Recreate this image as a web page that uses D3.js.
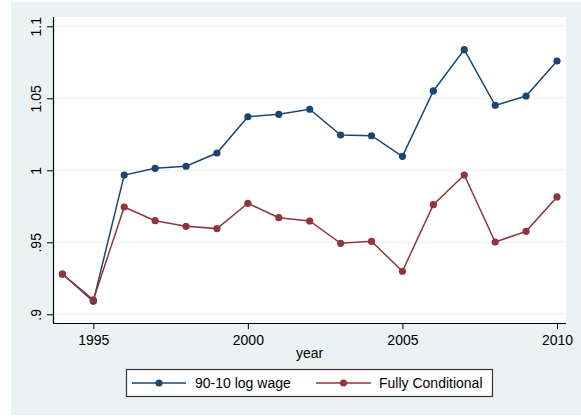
<!DOCTYPE html>
<html>
<head>
<meta charset="utf-8">
<script src="https://cdn.jsdelivr.net/npm/d3@7"></script>
<style>
  html, body { margin: 0; padding: 0; background: #ffffff; }
  svg { display: block; font-family: "Liberation Sans", Arial, sans-serif; }
</style>
</head>
<body>
<svg id="chart" width="581" height="417"></svg>
<script>
const years = [1994, 1995, 1996, 1997, 1998, 1999, 2000, 2001, 2002, 2003, 2004, 2005, 2006, 2007, 2008, 2009, 2010];
const logWage9010 = [0.928, 0.909, 0.9967, 1.0014, 1.0028, 1.012, 1.0372, 1.0389, 1.0424, 1.0245, 1.024, 1.0097, 1.0551, 1.0838, 1.0451, 1.0516, 1.0759];
const fullyConditional = [0.928, 0.910, 0.9745, 0.965, 0.9611, 0.9595, 0.9771, 0.9671, 0.9648, 0.9493, 0.9507, 0.9299, 0.9761, 0.9967, 0.9502, 0.9576, 0.9815];
const xTicks = [1995, 2000, 2005, 2010];
const yTicks = [0.9, 0.95, 1.0, 1.05, 1.1];
const yTickLabels = [".9", ".95", "1", "1.05", "1.1"];
const seriesNames = ["90-10 log wage", "Fully Conditional"];
const seriesColors = ["#1a476f", "#90353b"];

const svg = d3.select("#chart");
const bg = "#eaf2f3";

// outer background
svg.append("rect").attr("x", 11).attr("y", 2).attr("width", 570).attr("height", 413).attr("fill", bg);

const plot = { left: 53, right: 566, top: 17, bottom: 323 };
svg.append("rect").attr("x", plot.left).attr("y", plot.top)
  .attr("width", plot.right - plot.left).attr("height", plot.bottom - plot.top).attr("fill", "#ffffff");

const x = d3.scaleLinear().domain([1995, 2010]).range([93.3, 557]);
const y = d3.scaleLinear().domain([0.9, 1.1]).range([314.3, 26.3]);

// grid lines
svg.append("g").selectAll("line").data(yTicks).join("line")
  .attr("x1", plot.left).attr("x2", plot.right)
  .attr("y1", d => y(d)).attr("y2", d => y(d))
  .attr("stroke", bg).attr("stroke-width", 1.2);

// y axis
const yAxis = d3.axisLeft(y).tickValues(yTicks).tickSize(6).tickPadding(5)
  .tickFormat((d, i) => yTickLabels[i]);
const gy = svg.append("g").attr("transform", `translate(${plot.left},0)`).call(yAxis);
gy.select(".domain").attr("d", `M0.5,${plot.top + 0}V${plot.bottom}`).attr("stroke", "#000").attr("stroke-width", 1.2);
gy.selectAll(".tick line").attr("stroke", "#000").attr("stroke-width", 1);
gy.selectAll(".tick text")
  .attr("font-size", 14).attr("fill", "#000")
  .attr("text-anchor", "middle")
  .attr("x", null).attr("dy", null)
  .attr("transform", "translate(-12,0) rotate(-90)");

// x axis
const xAxis = d3.axisBottom(x).tickValues(xTicks).tickSize(6).tickPadding(6).tickFormat(d3.format("d"));
const gx = svg.append("g").attr("transform", `translate(0,${plot.bottom})`).call(xAxis);
gx.select(".domain").attr("d", `M${plot.left},0.5H${plot.right}`).attr("stroke", "#000").attr("stroke-width", 1.2);
gx.selectAll(".tick line").attr("stroke", "#000").attr("stroke-width", 1);
gx.selectAll(".tick text").attr("font-size", 14).attr("fill", "#000");

svg.append("text").attr("x", (plot.left + plot.right) / 2).attr("y", 358)
  .attr("text-anchor", "middle").attr("font-size", 14).attr("fill", "#000").text("year");

// series
const series = [logWage9010, fullyConditional];
const line = d3.line().x((d, i) => x(years[i])).y(d => y(d));
series.forEach((vals, s) => {
  const g = svg.append("g");
  g.append("path").datum(vals).attr("d", line).attr("fill", "none")
    .attr("stroke", seriesColors[s]).attr("stroke-width", 1.5);
  g.selectAll("circle").data(vals).join("circle")
    .attr("cx", (d, i) => x(years[i])).attr("cy", d => y(d)).attr("r", 3.6)
    .attr("fill", seriesColors[s]);
});

// legend
const leg = svg.append("g");
leg.append("rect").attr("x", 126.5).attr("y", 369.5).attr("width", 366).attr("height", 27)
  .attr("fill", "#ffffff").attr("stroke", "#333").attr("stroke-width", 1.2);
const legItems = [{x1: 132, x2: 186, cx: 159, tx: 195}, {x1: 316, x2: 371, cx: 343.5, tx: 379}];
legItems.forEach((it, i) => {
  leg.append("line").attr("x1", it.x1).attr("x2", it.x2).attr("y1", 383).attr("y2", 383)
    .attr("stroke", seriesColors[i]).attr("stroke-width", 1.5);
  leg.append("circle").attr("cx", it.cx).attr("cy", 383).attr("r", 3.6).attr("fill", seriesColors[i]);
  leg.append("text").attr("x", it.tx).attr("y", 388).attr("font-size", 14).attr("fill", "#000").text(seriesNames[i]);
});
</script>
</body>
</html>
